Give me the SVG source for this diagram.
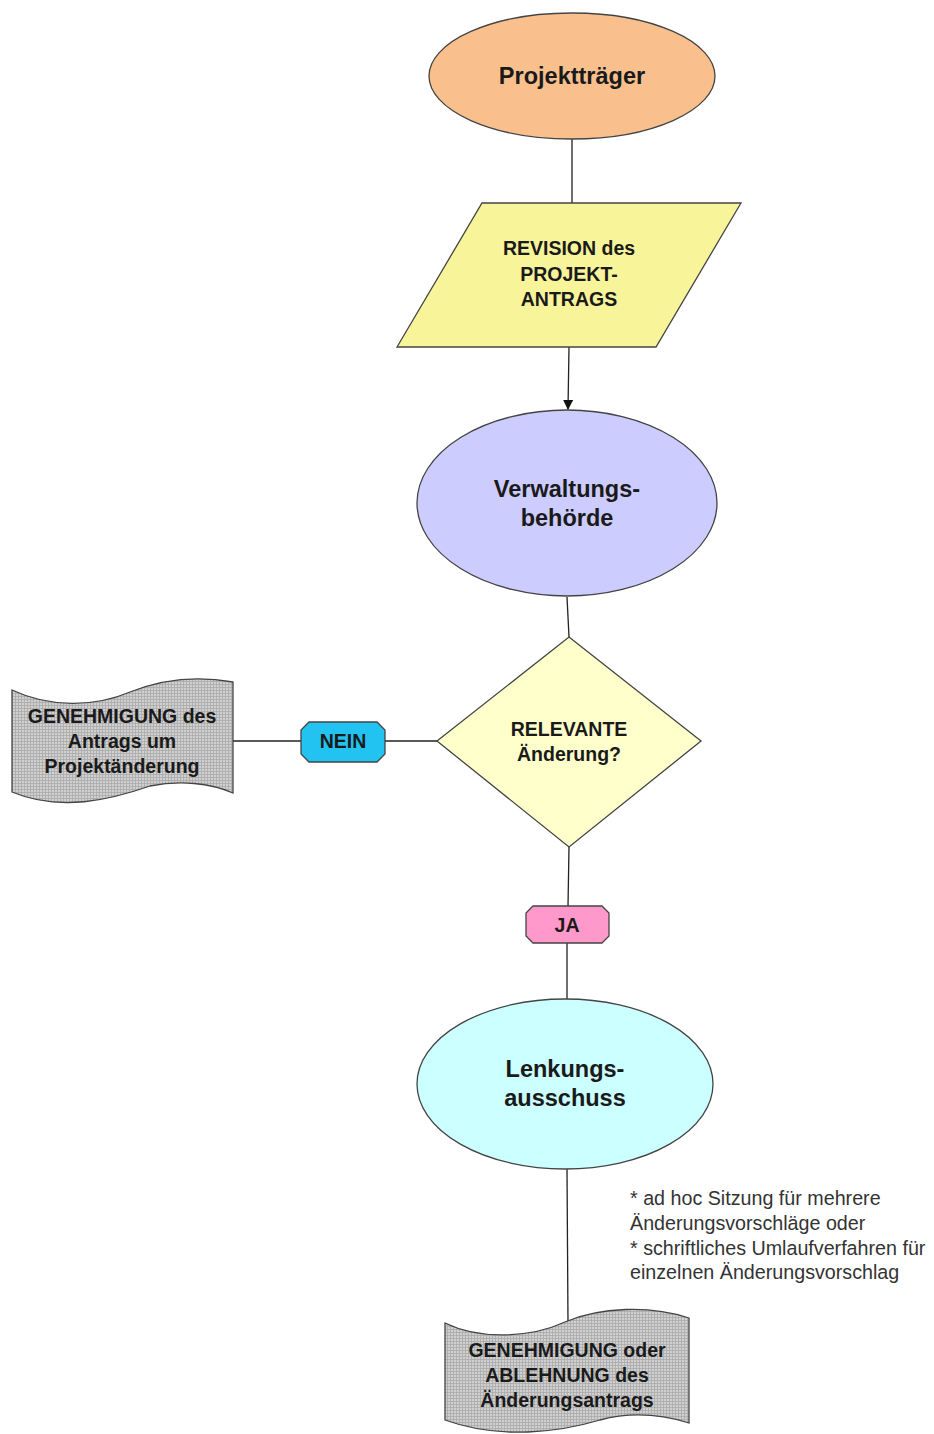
<svg xmlns="http://www.w3.org/2000/svg" width="934" height="1434" viewBox="0 0 934 1434">
<style>
.lbl{font-family:"Liberation Sans",Arial,sans-serif;font-weight:bold;fill:#1a1a1a;text-anchor:middle}
.s17{font-size:19.5px}
.s20{font-size:23.5px}
.note{font-family:"Liberation Sans",Arial,sans-serif;font-size:19.7px;fill:#333}
.edge{stroke:#222;stroke-width:1.3;fill:none}
.shp{stroke:#444;stroke-width:1.3}
</style>
<defs>
<pattern id="grid" width="3" height="3" patternUnits="userSpaceOnUse">
<rect width="3" height="3" fill="#d0d0d0"/>
<path d="M0,0.5H3M0.5,0V3" stroke="#aaaaaa" stroke-width="0.8"/>
</pattern>
<marker id="arr" markerWidth="10" markerHeight="10" refX="9" refY="5" orient="auto" markerUnits="userSpaceOnUse">
<path d="M0,0 L10,5 L0,10 Z" fill="#111"/>
</marker>
</defs>
<rect width="934" height="1434" fill="#fff"/>
<g id="connectors">
<line class="edge" x1="572" y1="139" x2="572" y2="203"/>
<line class="edge" x1="569" y1="347" x2="568" y2="409" marker-end="url(#arr)"/>
<line class="edge" x1="567" y1="597" x2="569" y2="637"/>
<line class="edge" x1="233" y1="741" x2="301" y2="741"/>
<line class="edge" x1="385" y1="741" x2="437" y2="741"/>
<line class="edge" x1="569" y1="847" x2="568" y2="906"/>
<line class="edge" x1="567" y1="943" x2="567" y2="1000"/>
<line class="edge" x1="567" y1="1169" x2="568" y2="1322"/>
</g>
<g id="projekttraeger">
<ellipse class="shp" cx="572" cy="76" rx="143" ry="63" fill="#f9c08e"/>
<text class="lbl s20" x="572" y="84">Projektträger</text>
</g>
<g id="revision">
<polygon class="shp" points="482,203 741,203 656,347 397,347" fill="#f8f49a"/>
<text class="lbl s17" x="569" y="255">REVISION des</text>
<text class="lbl s17" x="569" y="281">PROJEKT-</text>
<text class="lbl s17" x="569" y="306">ANTRAGS</text>
</g>
<g id="verwaltung">
<ellipse class="shp" cx="567" cy="503" rx="150" ry="93" fill="#ccccff"/>
<text class="lbl s20" x="567" y="497">Verwaltungs-</text>
<text class="lbl s20" x="567" y="526">behörde</text>
</g>
<g id="relevant">
<polygon class="shp" points="569,637 701,741 569,847 437,741" fill="#ffffcc"/>
<text class="lbl s17" x="569" y="736">RELEVANTE</text>
<text class="lbl s17" x="569" y="761">Änderung?</text>
</g>
<g id="nein">
<polygon class="shp" points="309,722 377,722 385,730 385,754 377,762 309,762 301,754 301,730" fill="#22c3f0"/>
<text class="lbl s17" x="343" y="748">NEIN</text>
</g>
<g id="genehmigung-antrag">
<path class="shp" d="M12,690 C50,708 95,707 130,692 C165,678 200,676 233,682 L233,793 C210,783 180,780 150,786 C110,800 60,812 12,792 Z" fill="url(#grid)"/>
<text class="lbl s17" x="122" y="723">GENEHMIGUNG des</text>
<text class="lbl s17" x="122" y="748">Antrags um</text>
<text class="lbl s17" x="122" y="773">Projektänderung</text>
</g>
<g id="ja">
<polygon class="shp" points="533,906 602,906 609,913 609,936 602,943 533,943 526,936 526,913" fill="#ff99cc"/>
<text class="lbl s17" x="567" y="932">JA</text>
</g>
<g id="lenkung">
<ellipse class="shp" cx="565" cy="1084" rx="148" ry="85" fill="#ccffff"/>
<text class="lbl s20" x="565" y="1077">Lenkungs-</text>
<text class="lbl s20" x="565" y="1106">ausschuss</text>
</g>
<g id="note">
<text class="note" x="630" y="1205">* ad hoc Sitzung für mehrere</text>
<text class="note" x="630" y="1230">Änderungsvorschläge oder</text>
<text class="note" x="630" y="1255">* schriftliches Umlaufverfahren für</text>
<text class="note" x="630" y="1279">einzelnen Änderungsvorschlag</text>
</g>
<g id="genehmigung-ablehnung">
<path class="shp" d="M445,1323 C480,1340 530,1338 565,1322 C600,1307 650,1305 689,1318 L689,1423 C660,1414 630,1412 600,1420 C560,1432 500,1440 445,1420 Z" fill="url(#grid)"/>
<text class="lbl s17" x="567" y="1357">GENEHMIGUNG oder</text>
<text class="lbl s17" x="567" y="1382">ABLEHNUNG des</text>
<text class="lbl s17" x="567" y="1407">Änderungsantrags</text>
</g>
</svg>
